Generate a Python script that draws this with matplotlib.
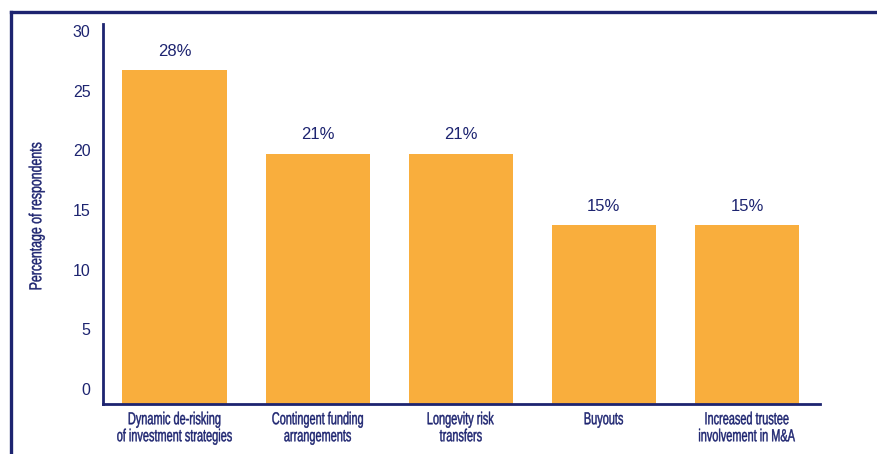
import matplotlib.pyplot as plt
import matplotlib.transforms as mtransforms
from matplotlib.lines import Line2D
from matplotlib.textpath import TextPath
from matplotlib.patches import PathPatch
from matplotlib.font_manager import FontProperties

categories = ["Dynamic de-risking\nof investment strategies",
              "Contingent funding\narrangements",
              "Longevity risk\ntransfers",
              "Buyouts",
              "Increased trustee\ninvolvement in M&A"]
values = [28, 21, 21, 15, 15]
yticks = [0, 5, 10, 15, 20, 25, 30]

navy = "#1d2470"
orange = "#f9ae3d"
DPI = 100
plt.rcParams["font.family"] = ["Liberation Sans", "DejaVu Sans"]


def narrow_text(fig, xpx, ypx, s, size=12.5, sx=0.63, rotation=0):
    # condensed text: glyph outlines squeezed horizontally, centred on (xpx, ypx) in pixels
    prop = FontProperties(family="Liberation Sans")
    tp = TextPath((0, 0), s, size=size, prop=prop)
    ext = tp.get_extents()
    tr = (mtransforms.Affine2D()
          .translate(-(ext.x0 + ext.x1) / 2, -size * 0.36)
          .scale(sx * DPI / 72, DPI / 72)
          .rotate_deg(rotation)
          .translate(xpx, ypx))
    fig.add_artist(PathPatch(tp, transform=tr, facecolor=navy, edgecolor=navy, lw=0.3))


fig = plt.figure(figsize=(8.77, 4.54), dpi=DPI)
ax = fig.add_axes([0.1174, 0.110, 0.8176, 0.837])

x = list(range(len(categories)))
ax.bar(x, values, width=0.727, color=orange)

for xi, v in zip(x, values):
    ax.annotate(f"{v}%", (xi, v), xytext=(0, 8), textcoords="offset points",
                ha="center", va="bottom", fontsize=12, color=navy)

ax.set_xlim(-0.5, 4.51)
ax.set_ylim(0, 31.85)
ax.set_yticks(yticks)
ax.set_yticklabels([str(t) for t in yticks], fontsize=11.5, color=navy)
ax.set_xticks(x)
ax.set_xticklabels([])
ax.tick_params(axis="both", length=0)
ax.tick_params(axis="y", pad=9)

# tick labels sit a little above their gridline positions
shift = mtransforms.ScaledTranslation(0, 15 / DPI, fig.dpi_scale_trans)
for lbl in ax.get_yticklabels():
    lbl.set_transform(lbl.get_transform() + shift)

for side in ["top", "right"]:
    ax.spines[side].set_visible(False)
for side in ["left", "bottom"]:
    ax.spines[side].set_color(navy)
    ax.spines[side].set_linewidth(2)

# category labels under the axis, condensed
H = 454
for xi, label in zip(x, categories):
    xpx = ax.transData.transform((xi, 0))[0]
    for k, line in enumerate(label.split("\n")):
        narrow_text(fig, xpx, H - (418 + 17 * k), line)

narrow_text(fig, 35, H - 216, "Percentage of respondents", sx=0.71, rotation=90)

# outer frame
fig.add_artist(Line2D([11 / 877, 11 / 877], [0, 1 - 12 / 454], color=navy, lw=2.4,
                      transform=fig.transFigure))
fig.add_artist(Line2D([11 / 877, 1], [1 - 12 / 454, 1 - 12 / 454], color=navy, lw=2.4,
                      transform=fig.transFigure))

fig.savefig("out.png", dpi=DPI)
